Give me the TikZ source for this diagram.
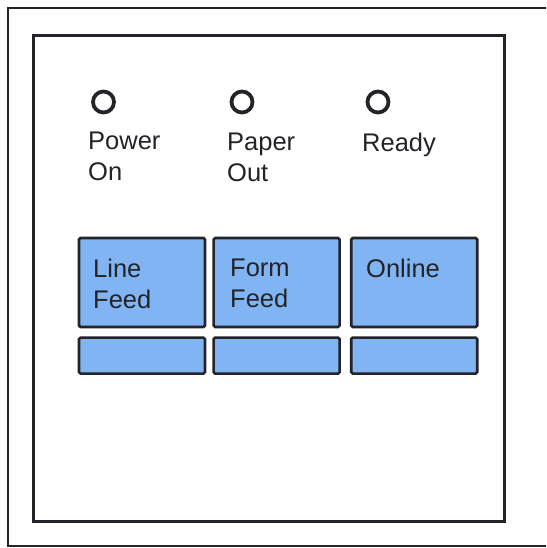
\documentclass[tikz,border=0pt]{standalone}
\usepackage{fontspec}
\setmainfont{Liberation Sans}
\usetikzlibrary{positioning}
\definecolor{keyblue}{RGB}{128,180,242}
\definecolor{ink}{RGB}{35,35,40}

\begin{document}
\begin{tikzpicture}[x=1pt,y=-1pt,
  key/.style={draw=ink,line width=2.6pt,fill=keyblue,rounded corners=1.5pt,
    minimum width=126pt,inner sep=0pt},
  lamp/.style={circle,draw=ink,line width=3.8pt,minimum size=21pt,inner sep=0pt},
  lbl/.style={align=left,anchor=north west,inner sep=0pt,text=ink,
    font=\fontsize{25.5}{31}\selectfont}]
\useasboundingbox (0,0) rectangle (546,548);
\clip (0,0) rectangle (546,548);
\draw[ink,line width=2.4pt] (560,8) -- (8,8) -- (8,546) -- (560,546);
\draw[ink,line width=3pt] (33,36) rectangle (504,521);
% lamps
\node[lamp] (pwr) at (103.5,102) {};
\node[lamp] (pap) at (242,102) {};
\node[lamp] (rdy) at (378,102) {};
\node[lbl] (pwrtxt) at (88,132) {Power\\On};
\node[lbl] (paptxt) at (227,133) {Paper\\Out};
\node[lbl] (rdytxt) at (362,133) {Ready};
% keys
\node[key,minimum height=89pt] (lf) at (142,282.5) {};
\node[key,minimum height=89pt,right=6pt of lf] (ff) {};
\node[key,minimum height=89pt,right=9pt of ff] (ol) {};
\node[key,minimum height=36pt,below=8pt of lf] (lfbar) {};
\node[key,minimum height=36pt,below=8pt of ff] (ffbar) {};
\node[key,minimum height=36pt,below=8pt of ol] (olbar) {};
\node[lbl] (lftxt) at (93,259) {Line\\Feed};
\node[lbl] (fftxt) at (230,259) {Form\\Feed};
\node[lbl] (oltxt) at (366,259) {Online};
\end{tikzpicture}
\end{document}
